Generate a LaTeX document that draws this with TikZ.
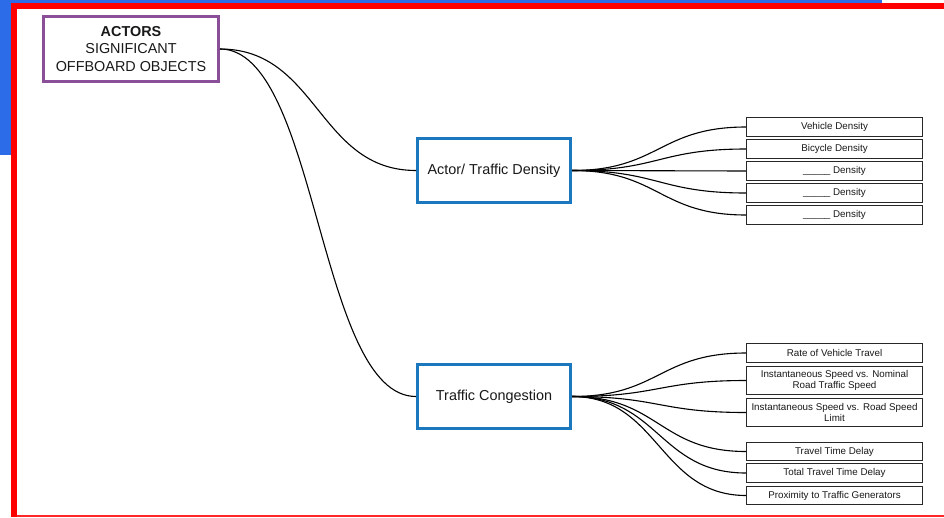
\documentclass[tikz,border=0pt]{standalone}
\usepackage{fontspec}
\setmainfont{Liberation Sans}
\definecolor{bgblue}{RGB}{45,108,232}
\definecolor{framered}{RGB}{255,0,0}
\definecolor{actpurple}{RGB}{139,78,153}
\definecolor{boxblue}{RGB}{27,120,190}
\definecolor{leafgray}{RGB}{40,40,40}
\definecolor{txt}{RGB}{25,25,25}
\begin{document}
\begin{tikzpicture}[x=1pt,y=-1pt,
  conn/.style={draw=black,line width=1.1pt},
  leaf/.style={draw=leafgray,line width=1.3pt,fill=white,minimum width=175.5pt,minimum height=18.5pt,inner sep=0pt,align=center,font=\fontsize{9.8}{11.8}\selectfont,text=txt},
  tallleaf/.style={leaf,minimum height=27.5pt},
  midbox/.style={draw=boxblue,line width=3pt,fill=white,minimum width=153pt,minimum height=64pt,inner sep=0pt,align=center,font=\fontsize{14.4}{17}\selectfont,text=txt},
  rootbox/.style={draw=actpurple,line width=3pt,fill=white,minimum width=175pt,minimum height=65pt,inner sep=0pt,align=center,font=\fontsize{14.4}{17.3}\selectfont,text=txt}]
\useasboundingbox (0,0) rectangle (944,517);
\fill[white] (0,0) rectangle (944,517);
% background blue block
\fill[bgblue] (0,0) rectangle (882,155);
% white sheet with red frame
\fill[white] (11,3) rectangle (944,517);
\fill[framered] (11,3) rectangle (944,8.5);
\fill[framered] (11,3) rectangle (16.5,517);
\fill[framered!85] (16.5,514.5) rectangle (944,516.5);

% nodes
\node[rootbox] (act) at (131,49) {\textbf{ACTORS}\\SIGNIFICANT\\OFFBOARD OBJECTS};
\node[midbox] (atd) at (494,170.5) {Actor/ Traffic Density};
\node[midbox] (tc) at (494,396.5) {Traffic Congestion};

\node[leaf] (vd) at (834.5,127) {Vehicle Density};
\node[leaf] (bd) at (834.5,149) {Bicycle Density};
\node[leaf] (d3) at (834.5,171) {\_\_\_\_\_ Density};
\node[leaf] (d4) at (834.5,193) {\_\_\_\_\_ Density};
\node[leaf] (d5) at (834.5,215) {\_\_\_\_\_ Density};

\node[leaf] (rv) at (834.5,353) {Rate of Vehicle Travel};
\node[tallleaf] (isn) at (834.5,380.5) {Instantaneous Speed vs. Nominal\\Road Traffic Speed};
\node[tallleaf] (isl) at (834.5,412.5) {Instantaneous Speed vs. Road Speed\\Limit};
\node[leaf] (ttd) at (834.5,451.5) {Travel Time Delay};
\node[leaf] (tot) at (834.5,473) {Total Travel Time Delay};
\node[leaf] (prx) at (834.5,495.5) {Proximity to Traffic Generators};

% connectors
\draw[conn] (act.east) .. controls +(98,0) and +(-98,0) .. (atd.west);
\draw[conn] (act.east) .. controls +(98,0) and +(-98,0) .. (tc.west);

\foreach \t in {vd,bd,d3,d4,d5}
  \draw[conn] (atd.east) .. controls +(87,0) and +(-87,0) .. (\t.west);
\foreach \t in {rv,isn,isl,ttd,tot,prx}
  \draw[conn] (tc.east) .. controls +(87,0) and +(-87,0) .. (\t.west);
\end{tikzpicture}
\end{document}
